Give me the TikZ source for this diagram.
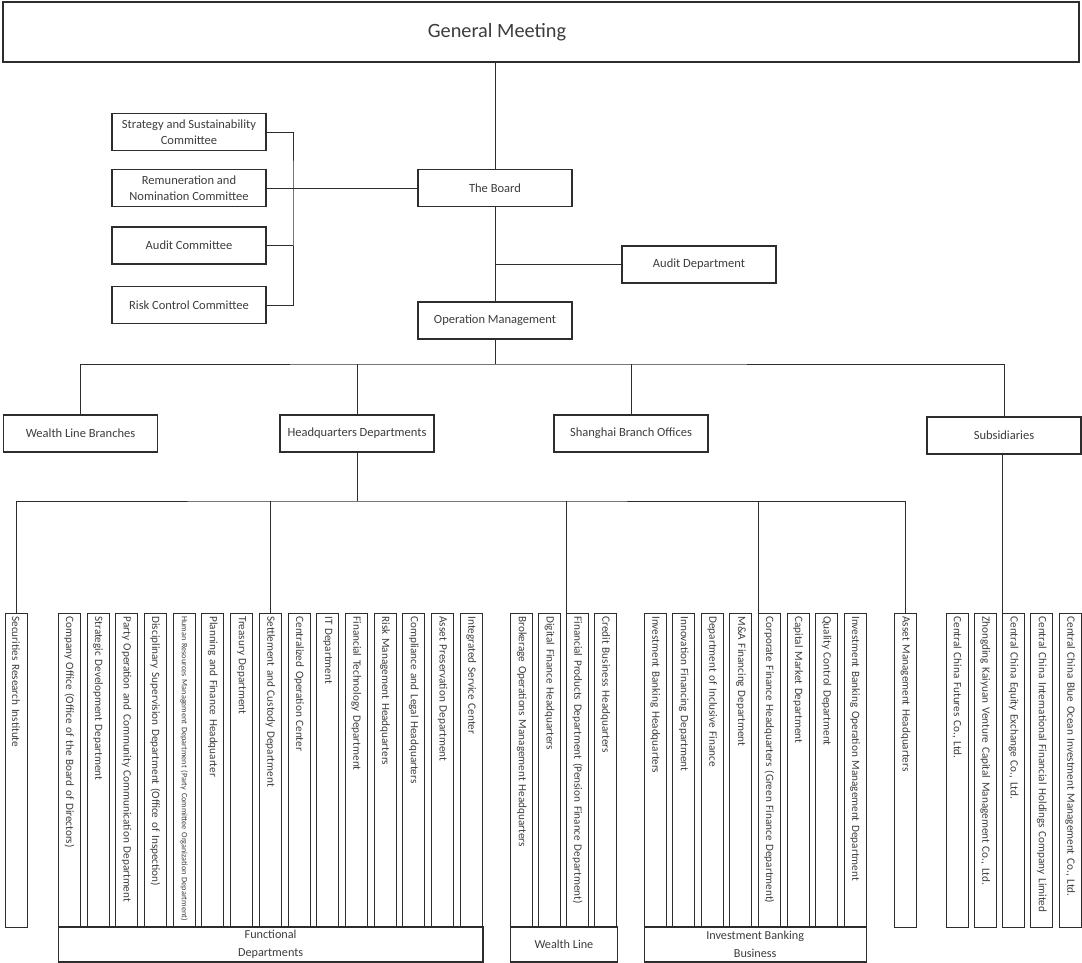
\documentclass[tikz,border=0pt]{standalone}
\usepackage{fontspec}
\setmainfont{Carlito}
\usetikzlibrary{positioning}
\definecolor{LineGray}{RGB}{45,45,45}
\definecolor{TextGray}{RGB}{60,60,60}

\begin{document}
\begin{tikzpicture}[x=1pt, y=-1pt,
    unit/.style={draw=LineGray, line width=1.1pt, text=TextGray, font=\fontsize{12.5}{16.5}\selectfont, align=center, minimum width=154pt, minimum height=37pt, inner sep=1pt},
    dept/.style={draw=LineGray, line width=0.9pt, text=TextGray, font=\fontsize{11.2}{13}\selectfont, rotate=-90, anchor=west, minimum height=22pt, text width=308pt, inner xsep=3pt, inner ysep=0pt, align=left},
    group/.style={draw=LineGray, line width=1.1pt, text=TextGray, font=\fontsize{12.2}{18}\selectfont, align=center, minimum height=35pt, inner sep=0pt},
    link/.style={draw=LineGray, line width=0.8pt}]
    \useasboundingbox (0,0) rectangle (1082,963);

    % General meeting and board
    \node[draw=LineGray, line width=1.1pt, minimum width=1076pt, minimum height=60pt,
          label={[text=TextGray, font=\fontsize{20.3}{24}\selectfont, xshift=-44pt]center:General Meeting}] (gm) at (541,32) {};
    \node[unit] (board) at (495,188) {The Board};
    \node[unit] (auddept) at (699,264.5) {Audit Department};
    \node[unit] (opm) at (495,320.5) {Operation Management};
    \draw[link] (gm.south -| board.north) -- (board.north);
    \draw[link] (board.south) -- (opm.north);
    \draw[link] (board.south |- auddept.west) -- (auddept.west);

    % Committees
    \node[unit] (strat) at (189,132) {Strategy and Sustainability\\Committee};
    \node[unit] (remun) at (189,188) {Remuneration and\\Nomination Committee};
    \node[unit] (audit) at (189,245.5) {Audit Committee};
    \node[unit] (risk) at (189,305) {Risk Control Committee};
    \coordinate (brk) at (293,188);
    \draw[link] (strat.east) -| (brk) |- (risk.east);
    \draw[link] (remun.east) -- (board.west);
    \draw[link] (audit.east) -- (audit.east -| brk);

    % Business lines
    \node[unit] (wlb) at (80.5,433.5) {Wealth Line Branches};
    \node[unit] (hqd) at (357,433.5) {Headquarters Departments};
    \node[unit] (shbo) at (631,433.5) {Shanghai Branch Offices};
    \node[unit] (subs) at (1004,435.5) {Subsidiaries};
    \coordinate (opbus) at (495,364);
    \draw[link] (opm.south) -- (opbus);
    \draw[link] (wlb.north) |- (opbus) -| (subs.north);
    \draw[link] (hqd.north) -- (hqd.north |- opbus);
    \draw[link] (shbo.north) -- (shbo.north |- opbus);

    % Research
    \node[dept] (sri) at (16,613) {Securities Research Institute};

    % Functional departments
    \node[dept] (cof) at (69.3,613) {Company Office (Office of the Board of Directors)};
    \node[dept] (sdd) at (98.0,613) {Strategic Development Department};
    \node[dept] (poc) at (126.7,613) {Party Operation and Community Communication Department};
    \node[dept] (dsd) at (155.4,613) {Disciplinary Supervision Department (Office of Inspection)};
    \node[dept, font=\fontsize{8.2}{9}\selectfont] (hrm) at (184.1,613) {Human Resources Management Department (Party Committee Organization Department)};
    \node[dept] (pfh) at (212.9,613) {Planning and Finance Headquarter};
    \node[dept] (trd) at (241.6,613) {Treasury Department};
    \node[dept] (stl) at (270.3,613) {Settlement and Custody Department};
    \node[dept] (coc) at (299.0,613) {Centralized Operation Center};
    \node[dept] (itd) at (327.7,613) {IT Department};
    \node[dept] (ftd) at (356.4,613) {Financial Technology Department};
    \node[dept] (rmh) at (385.1,613) {Risk Management Headquarters};
    \node[dept] (clh) at (413.8,613) {Compliance and Legal Headquarters};
    \node[dept] (apd) at (442.5,613) {Asset Preservation Department};
    \node[dept] (isc) at (471.2,613) {Integrated Service Center};
    \node[group, minimum width=424.7pt] (func) at (270.6,944.5) {Functional\\Departments};

    % Wealth line
    \node[dept] (bom) at (521.7,613) {Brokerage Operations Management Headquarters};
    \node[dept] (dfh) at (549.6,613) {Digital Finance Headquarters};
    \node[dept] (fpd) at (577.5,613) {Financial Products Department (Pension Finance Department)};
    \node[dept] (cbh) at (605.4,613) {Credit Business Headquarters};
    \node[group, minimum width=106.3pt] (wline) at (563.9,944.5) {Wealth Line};

    % Investment banking business
    \node[dept] (ibh) at (655.3,613) {Investment Banking Headquarters};
    \node[dept] (ifd) at (683.8,613) {Innovation Financing Department};
    \node[dept] (dif) at (712.4,613) {Department of Inclusive Finance};
    \node[dept] (maf) at (740.9,613) {M\&A Financing Department};
    \node[dept] (cfh) at (769.4,613) {Corporate Finance Headquarters (Green Finance Department)};
    \node[dept] (cmd) at (798.0,613) {Capital Market Department};
    \node[dept] (qcd) at (826.5,613) {Quality Control Department};
    \node[dept] (ibo) at (855.0,613) {Investment Banking Operation Management Department};
    \node[group, minimum width=221.7pt] (ibb) at (755.2,944.5) {Investment Banking\\Business};

    % Asset management
    \node[dept] (amh) at (905.6,613) {Asset Management Headquarters};

    % Subsidiaries
    \node[dept] (ccf) at (957.0,613) {Central China Futures Co., Ltd.};
    \node[dept] (zkv) at (985.3,613) {Zhongding Kaiyuan Venture Capital Management Co., Ltd.};
    \node[dept] (cce) at (1013.6,613) {Central China Equity Exchange Co., Ltd.};
    \node[dept] (cci) at (1041.9,613) {Central China International Financial Holdings Company Limited};
    \node[dept] (ccb) at (1070.2,613) {Central China Blue Ocean Investment Management Co., Ltd.};

    % Headquarters links
    \coordinate (hqbus) at (355,501);
    \draw[link] (hqd.south) -- (hqd.south |- hqbus);
    \draw[link] (sri.west) |- (hqbus) -| (amh.west);
    \draw[link] (stl.west) -- (stl.west |- hqbus);
    \draw[link] (fpd.south west) -- (fpd.south west |- hqbus);
    \draw[link] (cfh.south west) -- (cfh.south west |- hqbus);
    \draw[link] (cce.south west |- subs.south) -- (cce.south west);
\end{tikzpicture}
\end{document}
